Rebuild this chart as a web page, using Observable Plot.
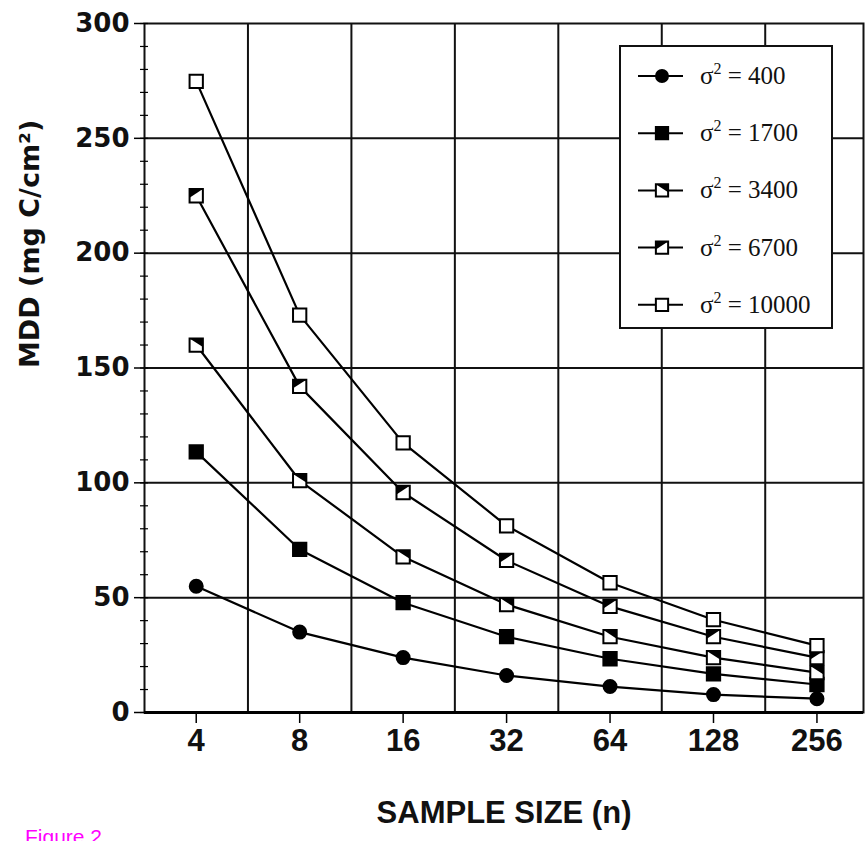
<!DOCTYPE html>
<html><head><meta charset="utf-8">
<script src="https://cdn.jsdelivr.net/npm/d3@7"></script>
<script src="https://cdn.jsdelivr.net/npm/@observablehq/plot@0.6"></script>
<style>
html,body{margin:0;padding:0;background:#fff;overflow:hidden}
#wrap{position:relative;width:868px;height:841px}
#fig{position:absolute;left:25px;top:826px;font:21px "Liberation Sans",Arial,sans-serif;color:#ff00ff;line-height:1}
#legend{position:absolute;left:619px;top:45px}
</style></head><body><div id="wrap"><div id="fig">Figure 2</div></div>
<script>
// ---- data ----
const sampleSizes = [4, 8, 16, 32, 64, 128, 256];
const variances = [400, 1700, 3400, 6700, 10000];
const mdd400   = [55, 35, 23.9, 16.1, 11.3, 7.8, 6];
const mdd1700  = [113.5, 71, 47.8, 33, 23.4, 16.8, 12.2];
const mdd3400  = [160, 101, 67.8, 47, 33, 23.9, 17.4];
const mdd6700  = [225, 142, 95.8, 66.2, 46.2, 33, 23.9];
const mdd10000 = [274.8, 173, 117.4, 81.3, 56.5, 40.4, 29.1];
const yMajorTicks = [0, 50, 100, 150, 200, 250, 300];
const yMinorTicks = d3.range(0, 301, 10);
const yGridLines = [50, 100, 150, 200, 250];
const xGridLines = sampleSizes.slice(0, -1).map((v, i) => Math.sqrt(v * sampleSizes[i + 1]));
const seriesValues = [mdd400, mdd1700, mdd3400, mdd6700, mdd10000];

const rows = [];
variances.forEach((v, i) => sampleSizes.forEach((n, j) => rows.push({variance: v, n, mdd: seriesValues[i][j]})));

// ---- markers ----
const topRightTri = {draw(ctx, size) { const w = Math.sqrt(size) / 2; ctx.moveTo(-w, -w); ctx.lineTo(w, -w); ctx.lineTo(w, w * 0.3); ctx.closePath(); }};
const topLeftTri  = {draw(ctx, size) { const w = Math.sqrt(size) / 2; ctx.moveTo(-w, -w); ctx.lineTo(w, -w); ctx.lineTo(-w, w * 0.3); ctx.closePath(); }};
const style = {
  400:   {symbol: "circle", fill: "black", r: 6.5},
  1700:  {symbol: "square", fill: "black", r: 7.5},
  3400:  {symbol: "square", fill: "white", r: 7.5, over: topRightTri},
  6700:  {symbol: "square", fill: "white", r: 7.5, over: topLeftTri},
  10000: {symbol: "square", fill: "white", r: 7.5}
};

const marks = [
  Plot.ruleY(yGridLines, {stroke: "#111", strokeWidth: 2}),
  Plot.ruleX(xGridLines, {stroke: "#111", strokeWidth: 2}),
  Plot.frame({stroke: "#111", strokeWidth: 2}),
  Plot.ruleY([0], {stroke: "#000", strokeWidth: 3}),
  Plot.axisY({ticks: yMinorTicks, tickSize: 4, text: null, strokeWidth: 1.2, label: null}),
  Plot.axisY({ticks: yMinorTicks, tickSize: -4, text: null, strokeWidth: 1.2, label: null}),
  Plot.axisY({ticks: yMajorTicks, tickSize: 10, tickPadding: 5, strokeWidth: 1.5, label: null,
    fontSize: 26, fontWeight: "bold", fontFamily: "DejaVu Sans", fill: "#111"}),
  Plot.axisX({ticks: sampleSizes, tickSize: 11, tickPadding: 5, tickFormat: d => String(d), strokeWidth: 1.5, label: null,
    fontSize: 31, fontWeight: "bold", fontFamily: "Liberation Sans", fill: "#111"}),
  Plot.line(rows, {x: "n", y: "mdd", z: "variance", stroke: "#000", strokeWidth: 2.2})
];
variances.forEach(v => {
  const s = style[v];
  const d = rows.filter(r => r.variance === v);
  marks.push(Plot.dot(d, {x: "n", y: "mdd", symbol: s.symbol, r: s.r, fill: s.fill, stroke: "#000", strokeWidth: 2}));
  if (s.over) marks.push(Plot.dot(d, {x: "n", y: "mdd", symbol: s.over, r: s.r, fill: "#000", stroke: "none"}));
});
marks.push(
  Plot.text(["MDD (mg C/cm²)"], {frameAnchor: "left", dx: -114, rotate: -90, text: d => d,
    fontSize: 27, fontWeight: "bold", fontFamily: "DejaVu Sans", fill: "#111"}),
  Plot.text(["SAMPLE SIZE (n)"], {frameAnchor: "bottom", dy: 110, text: d => d,
    fontSize: 31, fontWeight: "bold", fontFamily: "Liberation Sans", fill: "#111"})
);

const chart = Plot.plot({
  width: 868, height: 841,
  marginLeft: 144, marginRight: 5, marginTop: 23, marginBottom: 129,
  x: {type: "log", base: 2, domain: [2 ** 1.5, 2 ** 8.45]},
  y: {domain: [0, 300]},
  style: {background: "white", overflow: "visible"},
  marks
});
document.getElementById("wrap").prepend(chart);

// ---- legend ----
const legendLabels = variances.map(v => String(v));
const lw = 214, lh = 284;
const lg = d3.create("svg").attr("id", "legend").attr("width", lw).attr("height", lh);
lg.append("rect").attr("x", 1).attr("y", 1).attr("width", lw - 2).attr("height", lh - 2)
  .attr("fill", "white").attr("stroke", "#111").attr("stroke-width", 2);
variances.forEach((v, i) => {
  const cy = 31 + i * 57.2, s = style[v];
  const g = lg.append("g");
  g.append("line").attr("x1", 19).attr("x2", 64).attr("y1", cy).attr("y2", cy).attr("stroke", "#000").attr("stroke-width", 2);
  const sym = s.symbol === "circle" ? d3.symbolCircle : d3.symbolSquare;
  const size = Math.PI * s.r * s.r * 0.85;
  g.append("path").attr("transform", `translate(43,${cy})`).attr("d", d3.symbol(sym, size)())
    .attr("fill", s.fill).attr("stroke", "#000").attr("stroke-width", 2);
  if (s.over) g.append("path").attr("transform", `translate(43,${cy})`).attr("d", d3.symbol(s.over, size)()).attr("fill", "#000");
  const t = g.append("text").attr("x", 81).attr("y", cy + 8).attr("font-family", "Liberation Serif")
    .attr("font-size", 25).attr("fill", "#111");
  t.append("tspan").text("σ");
  t.append("tspan").attr("font-size", 16).attr("dy", -10).text("2");
  t.append("tspan").attr("dy", 10).text(" = " + legendLabels[i]);
});
document.getElementById("wrap").appendChild(lg.node());
</script></body></html>
